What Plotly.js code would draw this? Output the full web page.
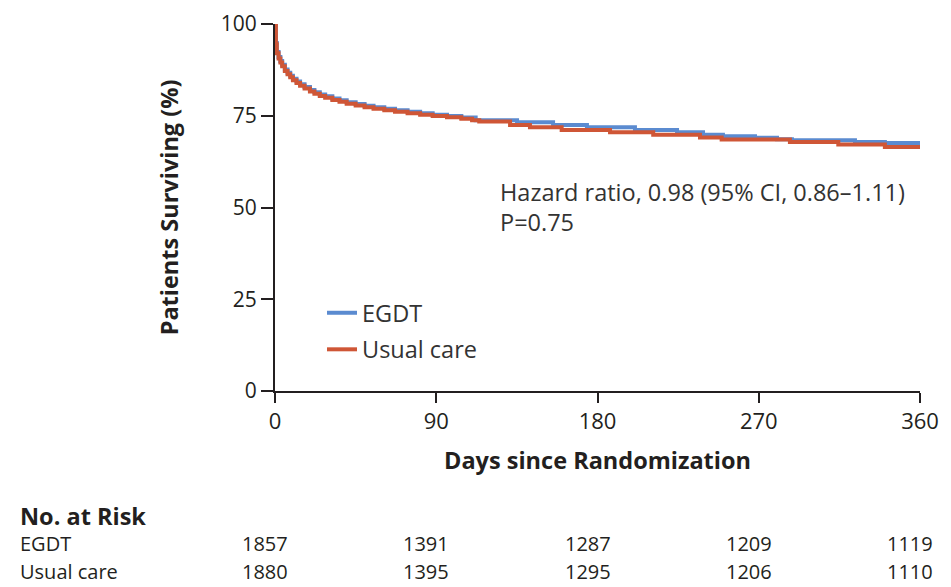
<!DOCTYPE html>
<html>
<head>
<meta charset="utf-8">
<script src="https://cdn.plot.ly/plotly-3.0.1.min.js"></script>
<style>
html,body{margin:0;padding:0;background:#fff;}
#chart{width:951px;height:587px;}
</style>
</head>
<body>
<div id="chart"></div>
<script>
// ---- data ----
const daysEgdt = [0, 0.5, 1, 2, 3, 4, 5.5, 7, 8.5, 10, 12, 14, 16.5, 19.5, 22, 25, 28, 32, 36, 40, 45, 50, 55, 61, 67, 74, 81, 88, 96, 104, 112, 135.1, 155.2, 174.1, 200.9, 224.4, 238.9, 250, 267.9, 280.2, 288.5, 323.7, 340.4, 360];
const survEgdt = [100, 94.8, 92.4, 91.0, 89.9, 88.9, 87.6, 86.7, 85.9, 85.1, 84.3, 83.6, 82.8, 82.0, 81.4, 80.8, 80.3, 79.7, 79.2, 78.7, 78.2, 77.7, 77.3, 76.9, 76.5, 76.1, 75.7, 75.3, 74.9, 74.5, 73.8, 73.2, 72.5, 71.9, 71.1, 70.5, 69.8, 69.4, 69.0, 68.6, 68.3, 67.85, 67.55, 67.55];

const daysUsual = [0, 0.5, 1, 2, 3, 4, 5.5, 7, 8.5, 10, 12, 14, 16.5, 19.5, 22, 25, 28, 32, 36, 40, 45, 50, 55, 61, 67, 74, 81, 88, 96, 104, 110, 114, 131.2, 142.3, 160, 187, 211.1, 237.2, 249.3, 287.4, 314.4, 340.4, 360];
const survUsual = [100, 94.5, 92.0, 90.6, 89.5, 88.5, 87.2, 86.3, 85.5, 84.7, 83.9, 83.2, 82.4, 81.6, 81.0, 80.4, 79.9, 79.3, 78.8, 78.3, 77.8, 77.3, 76.9, 76.5, 76.1, 75.7, 75.3, 74.9, 74.6, 74.2, 73.8, 73.4, 72.5, 71.9, 71.1, 70.5, 69.8, 69.1, 68.55, 67.85, 67.15, 66.5, 66.5];

const seriesNames = ["EGDT", "Usual care"];
const xTicks = [0, 90, 180, 270, 360];
const yTicks = [0, 25, 50, 75, 100];
const riskDays = [0, 90, 180, 270, 360];
const riskEgdt = [1857, 1391, 1287, 1209, 1119];
const riskUsual = [1880, 1395, 1295, 1206, 1110];
const hrText = "Hazard ratio, 0.98 (95% CI, 0.86\u20131.11)";
const pText = "P=0.75";

// ---- styling ----
const FONT = "'Open Sans', 'DejaVu Sans', sans-serif";
const INK = "#231f20";
const BLUE = "#5b8bd0";
const RED = "#cf5636";
const ROW1 = -0.4142;   // paper y of EGDT risk row
const ROW2 = -0.4905;   // paper y of Usual care risk row

const traces = [
  {x: daysEgdt, y: survEgdt, name: seriesNames[0], type: "scatter", mode: "lines",
   line: {shape: "hv", color: BLUE, width: 4}, legendgroup: "a"},
  {x: daysUsual, y: survUsual, name: seriesNames[1], type: "scatter", mode: "lines",
   line: {shape: "hv", color: RED, width: 4}, legendgroup: "b"}
];

const annotations = [
  {xref: "x", yref: "y", x: 124.5, y: 54.2, text: hrText, showarrow: false,
   xanchor: "left", yanchor: "middle", font: {family: FONT, size: 23.5, color: "#333"}},
  {xref: "x", yref: "y", x: 124.5, y: 46.05, text: pText, showarrow: false,
   xanchor: "left", yanchor: "middle", font: {family: FONT, size: 23.5, color: "#333"}},
  {xref: "paper", yref: "paper", x: -0.3984, y: -0.3406, text: "<b>No. at Risk</b>", showarrow: false,
   xanchor: "left", yanchor: "middle", font: {family: FONT, size: 23.5, color: INK}},
  {xref: "paper", yref: "paper", x: -0.3984, y: ROW1, text: seriesNames[0], showarrow: false,
   xanchor: "left", yanchor: "middle", font: {family: FONT, size: 20, color: INK}},
  {xref: "paper", yref: "paper", x: -0.3984, y: ROW2, text: seriesNames[1], showarrow: false,
   xanchor: "left", yanchor: "middle", font: {family: FONT, size: 20, color: INK}}
];
riskDays.forEach((d, i) => {
  annotations.push({xref: "x", yref: "paper", x: d, y: ROW1, text: String(riskEgdt[i]),
    showarrow: false, xanchor: "center", yanchor: "middle", xshift: -10,
    font: {family: FONT, size: 20, color: INK}});
  annotations.push({xref: "x", yref: "paper", x: d, y: ROW2, text: String(riskUsual[i]),
    showarrow: false, xanchor: "center", yanchor: "middle", xshift: -10,
    font: {family: FONT, size: 20, color: INK}});
});

const layout = {
  width: 951, height: 587,
  margin: {l: 275, r: 31, t: 24, b: 196},
  paper_bgcolor: "#fff", plot_bgcolor: "#fff",
  font: {family: FONT, color: INK, size: 22},
  showlegend: true,
  legend: {x: 0.0729, y: 0.2725, xanchor: "left", yanchor: "top",
           traceorder: "grouped", tracegroupgap: 3,
           bgcolor: "rgba(0,0,0,0)", font: {family: FONT, size: 23.5, color: "#333"}},
  xaxis: {range: [0, 360], tickvals: xTicks, ticktext: xTicks.map(String),
          showline: true, linecolor: INK, linewidth: 2, mirror: false,
          ticks: "outside", ticklen: 10, tickwidth: 2, tickcolor: INK,
          showgrid: false, zeroline: false, tickfont: {family: FONT, size: 22, color: INK},
          title: {text: "<b>Days since Randomization</b>", standoff: 18,
                  font: {family: FONT, size: 23.5, color: INK}}},
  yaxis: {range: [0, 100], tickvals: yTicks, ticktext: yTicks.map(String),
          showline: true, linecolor: INK, linewidth: 2,
          ticks: "outside", ticklen: 12, tickwidth: 2, tickcolor: INK,
          showgrid: false, zeroline: false, tickfont: {family: FONT, size: 21, color: INK},
          title: {text: "<b>Patients Surviving (%)</b>", standoff: 36,
                  font: {family: FONT, size: 23.5, color: INK}}},
  annotations: annotations
};

Plotly.newPlot("chart", traces, layout, {staticPlot: true, displayModeBar: false});
</script>
</body>
</html>
